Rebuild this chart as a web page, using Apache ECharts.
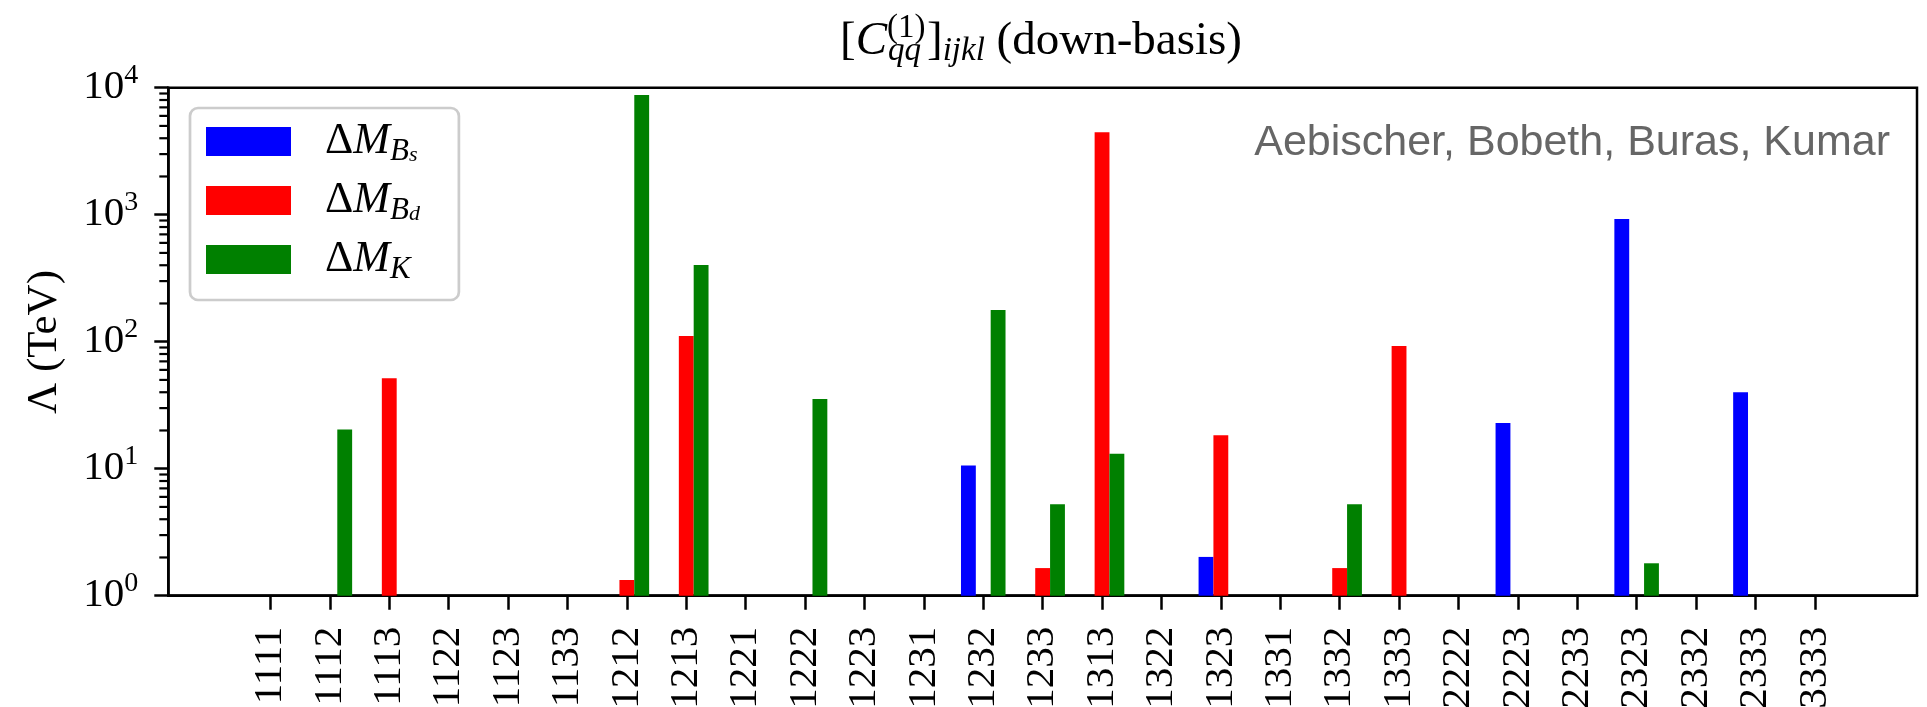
<!DOCTYPE html>
<html><head><meta charset="utf-8">
<script src="https://cdn.jsdelivr.net/npm/echarts@6/dist/echarts.min.js"></script>
<style>html,body{margin:0;padding:0;background:#fff}#c{width:1927px;height:707px}</style>
</head><body><div id="c"></div>
<script>
// ---------- data ----------
const categories = ['1111','1112','1113','1122','1123','1133','1212','1213','1221','1222','1223','1231','1232','1233','1313','1322','1323','1331','1332','1333','2222','2223','2233','2323','2332','2333','3333'];
const seriesNames = ['DMBs','DMBd','DMK'];
const valuesBs = [null,null,null,null,null,null,null,null,null,null,null,null,10.6,null,null,null,2.02,null,null,null,null,22.9,null,925,null,40.0,null];
const valuesBd = [null,null,51.5,null,null,null,1.33,111,null,null,null,null,null,1.65,4455,null,18.3,null,1.65,92.5,null,null,null,null,null,null,null];
const valuesK  = [null,20.4,null,null,null,null,8770,402,null,35.4,null,null,178,5.24,13.1,null,null,null,5.24,null,null,null,null,1.80,null,null,null];
const yTickValues = [1,10,100,1000,10000];
const yTickExponents = ['0','1','2','3','4'];
const titleText = '(down-basis)';
const annotation = 'Aebischer, Bobeth, Buras, Kumar';
const yAxisTitle = 'Λ (TeV)';

// ---------- helpers ----------
const SERIF = 'Liberation Serif';
const X_MIN = -1.72, X_MAX = 27.72;
const toPairs = arr => arr.map((v,i) => v == null ? null : [i, v]).filter(Boolean);
const catIdx = categories.map((c,i) => i);
const minorTickValues = [];
for (let e = 0; e < 4; e++) for (let k = 2; k <= 9; k++) minorTickValues.push(k * Math.pow(10, e));
const legendLabels = {
  DMBs: '{d|Δ}{m|M}{s|B}{ss|s}',
  DMBd: '{d|Δ}{m|M}{s|B}{ss|d}',
  DMK:  '{d|Δ}{m|M}{s|K}'
};
const colors = ['#0000ff','#ff0000','#008000'];
const BW = 14.85;

const chart = echarts.init(document.getElementById('c'), null, {renderer:'canvas'});
const barSeries = [valuesBs, valuesBd, valuesK].map((vals, k) => ({
  type:'bar', name:seriesNames[k], data:toPairs(vals), barWidth:BW, barGap:'0%',
  itemStyle:{color:colors[k]}
}));
const minorSeries = {
  type:'custom', name:'minorTicks', silent:true, clip:false, z:10,
  data: minorTickValues.map(v => [X_MIN, v]),
  renderItem: (params, api) => {
    const p = api.coord([api.value(0), api.value(1)]);
    return {type:'line', shape:{x1:p[0]-9, y1:p[1], x2:p[0], y2:p[1]}, style:{stroke:'#000', lineWidth:2.2}};
  }
};
chart.setOption({
  animation: false,
  backgroundColor: '#fff',
  grid: {left:168.3, right:10, top:87.7, bottom:111.3, show:true, borderColor:'#000', borderWidth:2.5,
         backgroundColor:'transparent', containLabel:false, outerBoundsMode:'none'},
  xAxis: {
    type:'value', min:X_MIN, max:X_MAX,
    axisLine:{show:true, onZero:false, lineStyle:{color:'#000', width:2.5}},
    axisTick:{show:true, customValues:catIdx, length:14, lineStyle:{color:'#000', width:2.5}},
    axisLabel:{show:true, customValues:catIdx, formatter:v => categories[Math.round(v)], rotate:90, margin:31,
               fontFamily:SERIF, fontSize:41, color:'#000'},
    splitLine:{show:false}
  },
  yAxis: {
    type:'log', logBase:10, min:1, max:10000, position:'left',
    axisLine:{show:true, onZero:false, lineStyle:{color:'#000', width:2.5}},
    axisTick:{show:true, length:14, lineStyle:{color:'#000', width:2.5}},
    axisLabel:{show:true, margin:30, color:'#000',
      formatter: v => { const e = Math.round(Math.log10(v)); const i = yTickValues.indexOf(Math.pow(10,e));
                        return '{b|10}{sup|' + yTickExponents[i] + '}'; },
      rich:{ b:{fontFamily:SERIF, fontSize:41, lineHeight:41, color:'#000'},
             sup:{fontFamily:SERIF, fontSize:28, lineHeight:28, padding:[0,0,24,0], color:'#000'} }},
    splitLine:{show:false}
  },
  legend: {
    orient:'vertical', left:190, top:108, itemWidth:85, itemHeight:29, itemGap:8,
    padding:[8,39,15,16], backgroundColor:'#fff', borderColor:'#cccccc', borderWidth:2.7, borderRadius:8,
    icon:'rect', selectedMode:false,
    formatter: n => legendLabels[n],
    textStyle:{ color:'#000', rich:{
      d:{fontFamily:SERIF, fontSize:44, lineHeight:44, padding:[0,0,0,29], color:'#000'},
      m:{fontFamily:SERIF, fontStyle:'italic', fontSize:44, lineHeight:44, color:'#000'},
      s:{fontFamily:SERIF, fontStyle:'italic', fontSize:31, lineHeight:31, padding:[20,0,0,0], color:'#000'},
      ss:{fontFamily:SERIF, fontStyle:'italic', fontSize:22, lineHeight:22, padding:[28,0,0,0], color:'#000'}
    }},
    data: seriesNames
  },
  series: barSeries.concat([minorSeries]),
  graphic: [
    {type:'text', x:1041, y:42, style:{
      text:'{b|[}{c|C}{sup|(1)}{sub|qq}{b|]}{sub2|ijkl}{b| ' + titleText + '}',
      align:'center', verticalAlign:'middle', textAlign:'center', textVerticalAlign:'middle',
      rich:{
        b:{fontFamily:SERIF, fontSize:47, lineHeight:47, align:'left', color:'#000'},
        c:{fontFamily:SERIF, fontStyle:'italic', fontSize:47, lineHeight:47, align:'left', color:'#000'},
        sup:{fontFamily:SERIF, fontSize:33, lineHeight:33, padding:[0,0,28,0], width:1, align:'left', color:'#000'},
        sub:{fontFamily:SERIF, fontStyle:'italic', fontSize:33, lineHeight:33, padding:[18,0,0,0], width:39, align:'left', color:'#000'},
        sub2:{fontFamily:SERIF, fontStyle:'italic', fontSize:33, lineHeight:33, padding:[18,0,0,0], align:'left', color:'#000'}
      }}},
    {type:'text', x:1890, y:143, style:{text:annotation, fontFamily:'Liberation Sans', fontSize:43, fill:'#666',
      align:'right', verticalAlign:'middle', textAlign:'right', textVerticalAlign:'middle'}},
    {type:'text', x:45, y:342, rotation:Math.PI/2, style:{text:yAxisTitle, fontFamily:SERIF, fontSize:43, fill:'#000',
      align:'center', verticalAlign:'middle', textAlign:'center', textVerticalAlign:'middle'}}
  ]
});
</script></body></html>
